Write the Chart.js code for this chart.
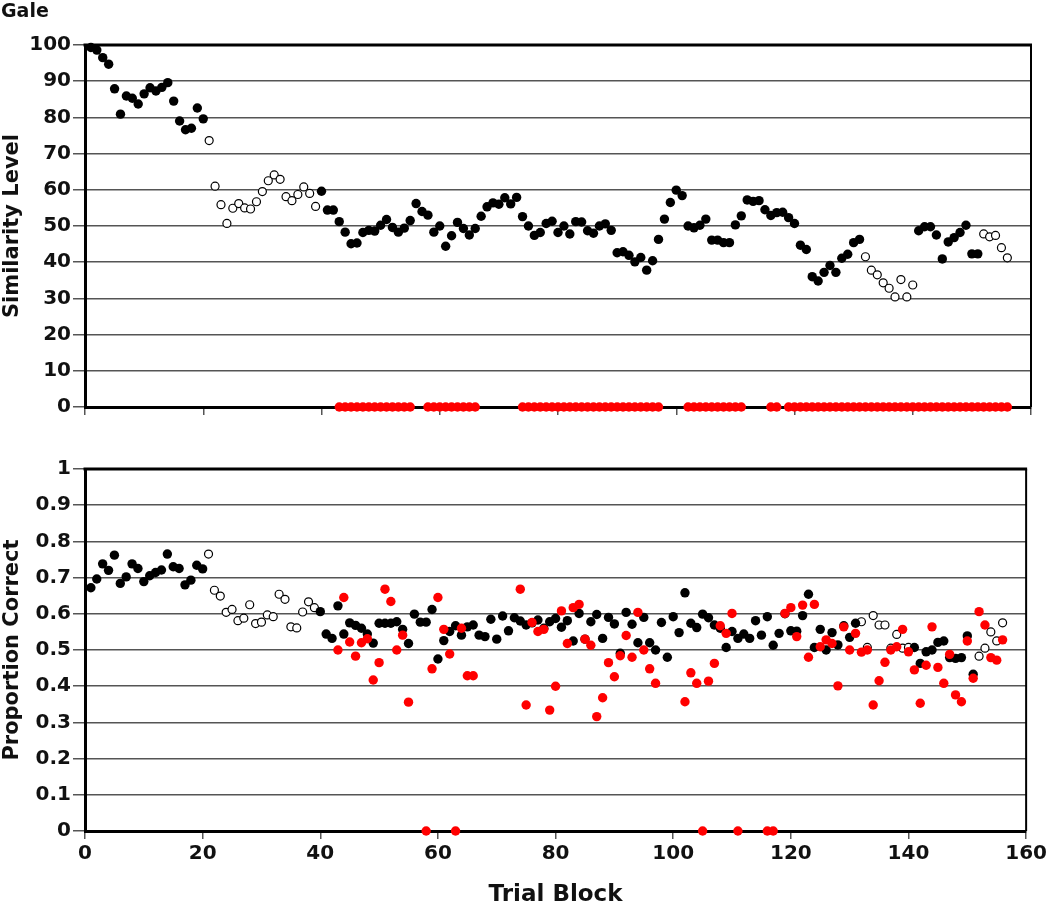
<!DOCTYPE html>
<html>
<head>
<meta charset="utf-8">
<script src="https://cdn.jsdelivr.net/npm/chart.js@4.4.1/dist/chart.umd.min.js"></script>
<style>
  body { margin: 0; background: #fff; }
  #wrap { position: relative; width: 1050px; height: 907px; }
  #gale { position: absolute; left: 1px; top: 1px; font: bold 19px "DejaVu Sans"; line-height: 1; color: #111; }
  #topChart { position: absolute; left: 0; top: 0; }
  #bottomChart { position: absolute; left: 0; top: 440px; }
</style>
</head>
<body>
<div id="wrap">
  <canvas id="topChart" width="1050" height="440"></canvas>
  <canvas id="bottomChart" width="1050" height="467"></canvas>
  <div id="gale">Gale</div>
</div>
<script>
// similarity level per trial block (1..156)
const similarity = [
  99.3, 98.6, 96.5, 94.7, 87.9, 80.9, 85.9, 85.3, 83.7, 86.5, 88.2, 87.3, 88.3, 89.6, 84.5, 79.0, 76.6, 77.0, 82.6, 79.6,
  73.6, 61.0, 55.9, 50.7, 54.9, 56.2, 55.0, 54.7, 56.7, 59.5, 62.5, 64.1, 62.9, 58.1, 57.0, 58.7, 60.8, 59.0, 55.4, 59.6,
  54.4, 54.4, 51.2, 48.3, 45.1, 45.3, 48.2, 48.8, 48.6, 50.2, 51.8, 49.6, 48.3, 49.4, 51.5, 56.2, 54.0, 53.0, 48.3, 50.0,
  44.4, 47.3, 51.0, 49.3, 47.5, 49.3, 52.7, 55.3, 56.4, 56.0, 57.8, 56.1, 57.9, 52.6, 50.0, 47.4, 48.2, 50.7, 51.3, 48.2,
  50.0, 47.8, 51.2, 51.1, 48.7, 48.0, 50.0, 50.6, 48.8, 42.6, 42.9, 41.9, 40.1, 41.3, 37.8, 40.4, 46.3, 51.9, 56.5, 59.9,
  58.4, 50.0, 49.5, 50.2, 51.9, 46.1, 46.1, 45.4, 45.4, 50.3, 52.8, 57.2, 56.8, 57.0, 54.5, 52.9, 53.7, 53.8, 52.3, 50.7,
  44.7, 43.5, 36.0, 34.8, 37.2, 39.1, 37.2, 41.1, 42.2, 45.4, 46.3, 41.5, 37.8, 36.5, 34.3, 32.8, 30.4, 35.2, 30.4, 33.7,
  48.7, 49.8, 49.8, 47.5, 40.9, 45.6, 46.8, 48.2, 50.2, 42.3, 42.3, 47.8, 47.0, 47.4, 44.0, 41.2
];

// proportion correct per trial block (1..156)
const proportion = [
  0.672, 0.696, 0.738, 0.720, 0.762, 0.684, 0.702, 0.738, 0.725, 0.689, 0.705, 0.714, 0.721, 0.765, 0.730, 0.725, 0.680, 0.693, 0.734, 0.724,
  0.765, 0.665, 0.649, 0.604, 0.612, 0.581, 0.588, 0.625, 0.573, 0.577, 0.597, 0.592, 0.654, 0.640, 0.564, 0.561, 0.605, 0.633, 0.617, 0.606,
  0.544, 0.532, 0.622, 0.544, 0.575, 0.568, 0.560, 0.544, 0.519, 0.574, 0.574, 0.574, 0.578, 0.557, 0.518, 0.599, 0.577, 0.577, 0.612, 0.475,
  0.526, 0.551, 0.567, 0.541, 0.564, 0.569, 0.541, 0.537, 0.585, 0.530, 0.594, 0.553, 0.589, 0.580, 0.569, 0.575, 0.583, 0.560, 0.578, 0.587,
  0.563, 0.581, 0.525, 0.601, 0.530, 0.578, 0.598, 0.532, 0.590, 0.572, 0.491, 0.604, 0.571, 0.520, 0.590, 0.520, 0.500, 0.576, 0.480, 0.592,
  0.548, 0.658, 0.574, 0.562, 0.599, 0.589, 0.569, 0.560, 0.507, 0.551, 0.532, 0.544, 0.532, 0.581, 0.541, 0.592, 0.513, 0.546, 0.600, 0.553,
  0.552, 0.595, 0.654, 0.507, 0.557, 0.500, 0.548, 0.514, 0.567, 0.535, 0.574, 0.578, 0.507, 0.595, 0.569, 0.569, 0.505, 0.543, 0.505, 0.507,
  0.507, 0.463, 0.495, 0.500, 0.521, 0.525, 0.479, 0.477, 0.479, 0.539, 0.433, 0.483, 0.505, 0.550, 0.525, 0.575
];

// blocks drawn as open circles
const openBlocks = [[21, 39], [132, 140], [152, 156]];

// blocks with the red series, and its proportion correct
const redBlocks = [[43, 55], [58, 66], [74, 97], [102, 111], [116, 117], [119, 156]];
const redSimilarity = 0;
const redProportion = [
  0.500, 0.645, 0.522, 0.483, 0.520, 0.531, 0.417, 0.465, 0.668, 0.634, 0.500, 0.541, 0.356,
  0, 0.448, 0.645, 0.557, 0.489, 0, 0.560, 0.429, 0.429,
  0.668, 0.348, 0.576, 0.551, 0.557, 0.334, 0.400, 0.608, 0.518, 0.617, 0.626, 0.530, 0.513, 0.316, 0.368, 0.465, 0.426, 0.484, 0.540, 0.480, 0.604, 0.500, 0.448, 0.408,
  0.357, 0.437, 0.408, 0, 0.414, 0.463, 0.567, 0.546, 0.601, 0,
  0, 0,
  0.601, 0.617, 0.537, 0.624, 0.480, 0.626, 0.509, 0.528, 0.518, 0.401, 0.564, 0.500, 0.546, 0.494, 0.500, 0.348, 0.415, 0.466, 0.500, 0.509,
  0.557, 0.495, 0.445, 0.353, 0.458, 0.564, 0.452, 0.408, 0.488, 0.376, 0.357, 0.525, 0.422, 0.606, 0.569, 0.479, 0.472, 0.528
];

const xTicks = [0, 20, 40, 60, 80, 100, 120, 140, 160];

const trials = similarity.map((v, i) => i + 1);
const isOpen = t => openBlocks.some(([a, b]) => t >= a && t <= b);
const redTrials = [];
redBlocks.forEach(([a, b]) => { for (let t = a; t <= b; t++) redTrials.push(t); });

Chart.defaults.font.family = 'DejaVu Sans';
Chart.defaults.color = '#111';

const GRID = '#555';

// thick top edge and thin right edge of the plot box
const frame = {
  id: 'frame',
  beforeDatasetsDraw(chart) {
    const { ctx, chartArea: a } = chart;
    ctx.save();
    ctx.strokeStyle = '#000';
    ctx.lineWidth = 3;
    ctx.beginPath();
    ctx.moveTo(a.left - 1.5, a.top);
    ctx.lineTo(a.right + 1, a.top);
    ctx.stroke();
    ctx.lineWidth = 2;
    ctx.beginPath();
    ctx.moveTo(a.right, a.top);
    ctx.lineTo(a.right, a.bottom);
    ctx.stroke();
    ctx.restore();
  }
};

function pointSets(values, redValues) {
  return [
    {
      data: redTrials.map((t, i) => ({ x: t, y: redValues[i] })),
      backgroundColor: '#ff0000', borderColor: '#ff0000', borderWidth: 0, pointRadius: 4.7, clip: false
    },
    {
      data: trials.filter(t => !isOpen(t)).map(t => ({ x: t, y: values[t - 1] })),
      backgroundColor: '#000', borderColor: '#000', borderWidth: 0, pointRadius: 4.7, clip: false
    },
    {
      data: trials.filter(t => isOpen(t)).map(t => ({ x: t, y: values[t - 1] })),
      backgroundColor: '#fff', borderColor: '#000', borderWidth: 1.2, pointRadius: 4, clip: false
    }
  ];
}

function makeOptions(cfg) {
  return {
    responsive: false,
    animation: false,
    layout: { padding: { top: cfg.padTop, right: 19, left: 0, bottom: 0 } },
    plugins: { legend: { display: false }, tooltip: { enabled: false } },
    scales: {
      x: {
        type: 'linear', min: 0, max: 160,
        afterBuildTicks: s => { s.ticks = xTicks.map(v => ({ value: v })); },
        afterFit: s => { s.height = cfg.xHeight; },
        grid: { drawOnChartArea: false, drawTicks: true, tickLength: 8, color: GRID, lineWidth: 1.5 },
        border: { color: '#000', width: 3 },
        ticks: { display: cfg.showX, font: { size: 20, weight: 'bold' }, padding: 3, maxRotation: 0 },
        title: {
          display: cfg.showX, text: 'Trial Block',
          font: { size: 23, weight: 'bold', lineHeight: 1 }, padding: { top: 0, bottom: 0 }
        }
      },
      y: {
        min: cfg.yMin, max: cfg.yMax,
        afterBuildTicks: s => { s.ticks = cfg.yTicks.map(v => ({ value: v })); },
        afterFit: s => { s.width = 85; },
        grid: { color: GRID, lineWidth: 1.5, tickLength: 12 },
        border: { color: '#000', width: 3 },
        ticks: {
          font: { size: 20, weight: 'bold' }, padding: 2,
          callback: v => String(Math.round(v * 10) / 10)
        },
        title: {
          display: true, text: cfg.yTitle,
          font: { size: 21, weight: 'bold', lineHeight: 1.2 }, padding: { top: 0, bottom: 0 }
        }
      }
    }
  };
}

new Chart(document.getElementById('topChart'), {
  type: 'scatter',
  data: { datasets: pointSets(similarity, redTrials.map(() => redSimilarity)) },
  options: makeOptions({
    padTop: 45, xHeight: 33, showX: false,
    yMin: 0, yMax: 100, yTicks: [0, 10, 20, 30, 40, 50, 60, 70, 80, 90, 100],
    yTitle: 'Similarity Level'
  }),
  plugins: [frame]
});

new Chart(document.getElementById('bottomChart'), {
  type: 'scatter',
  data: { datasets: pointSets(proportion, redProportion) },
  options: makeOptions({
    padTop: 29, xHeight: 76, showX: true,
    yMin: 0, yMax: 1, yTicks: [0, 0.1, 0.2, 0.3, 0.4, 0.5, 0.6, 0.7, 0.8, 0.9, 1],
    yTitle: 'Proportion Correct'
  }),
  plugins: [frame]
});
</script>
</body>
</html>
